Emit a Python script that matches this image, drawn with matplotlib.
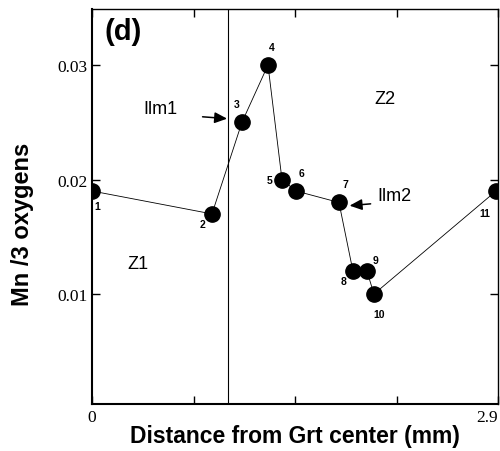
import matplotlib.pyplot as plt

# Mn profile across garnet
dist = [0.0, 0.857, 1.071, 1.257, 1.357, 1.457, 1.764, 1.864, 1.964, 2.014, 2.886]
mn = [0.019, 0.017, 0.025, 0.030, 0.020, 0.019, 0.018, 0.012, 0.012, 0.010, 0.019]
point_ids = ['1', '2', '3', '4', '5', '6', '7', '8', '9', '10', '11']
zone_boundary = 0.971

x_ticks = [0, 0.725, 1.45, 2.175, 2.9]
x_ticklabels = ['0', '', '', '', '2.9']
y_ticks = [0.01, 0.02, 0.03]
y_ticklabels = ['0.01', '0.02', '0.03']

# label offsets in points
offsets = [(4, -11), (-7, -7), (-4, 13), (3, 13), (-9, 0), (4, 13), (5, 13),
           (-7, -7), (6, 8), (4, -14), (-8, -16)]

fig = plt.figure(figsize=(5, 4.52), dpi=100)
ax = fig.add_axes([0.184, 0.104, 0.812, 0.874])

ax.plot(dist, mn, color='black', lw=0.6, marker='o', ms=11,
        markerfacecolor='black', zorder=3)
ax.axvline(zone_boundary, color='black', lw=0.8)

for x, y, s, off in zip(dist, mn, point_ids, offsets):
    ax.annotate(s, (x, y), xytext=off, textcoords='offset points',
                ha='center', va='center', fontsize=7.5, fontweight='bold',
                family='Liberation Sans')

ax.text(0.09, 0.033, '(d)', fontsize=21, fontweight='bold', family='Liberation Sans',
        va='center')
ax.text(0.37, 0.0262, 'Ilm1', fontsize=13, family='Liberation Sans', va='center')
ax.text(2.02, 0.0271, 'Z2', fontsize=13, family='Liberation Sans', va='center')
ax.text(2.04, 0.0186, 'Ilm2', fontsize=13, family='Liberation Sans', va='center')
ax.text(0.25, 0.0127, 'Z1', fontsize=13, family='Liberation Sans', va='center')

ax.annotate('', xy=(0.985, 0.0253), xytext=(0.77, 0.0255),
            arrowprops=dict(arrowstyle='-|>,head_length=0.5,head_width=0.22',
                            color='black', lw=1.1, mutation_scale=15))
ax.annotate('', xy=(1.82, 0.0177), xytext=(2.01, 0.0179),
            arrowprops=dict(arrowstyle='-|>,head_length=0.5,head_width=0.22',
                            color='black', lw=1.1, mutation_scale=15))

ax.set_xlim(0, 2.9)
ax.set_ylim(0.0004, 0.0349)
ax.set_xticks(x_ticks)
ax.set_xticklabels(x_ticklabels, family='Liberation Serif', fontsize=12.5)
ax.get_xticklabels()[-1].set_horizontalalignment('right')
ax.set_yticks(y_ticks)
ax.set_yticklabels(y_ticklabels, family='Liberation Serif', fontsize=12.5)
ax.tick_params(direction='in', top=True, right=True, length=6, width=1)

ax.set_xlabel('Distance from Grt center (mm)', fontsize=16.5, fontweight='bold',
              family='Liberation Sans', va='center')
ax.xaxis.set_label_coords(0.5, -0.081)
ax.set_ylabel('Mn /3 oxygens', fontsize=17, fontweight='bold',
              family='Liberation Sans', va='center')
ax.yaxis.set_label_coords(-0.172, 0.456)

for side in ['left', 'bottom']:
    ax.spines[side].set_linewidth(1.5)
for side in ['top', 'right']:
    ax.spines[side].set_linewidth(1.0)

fig.savefig('out.png', dpi=100)
